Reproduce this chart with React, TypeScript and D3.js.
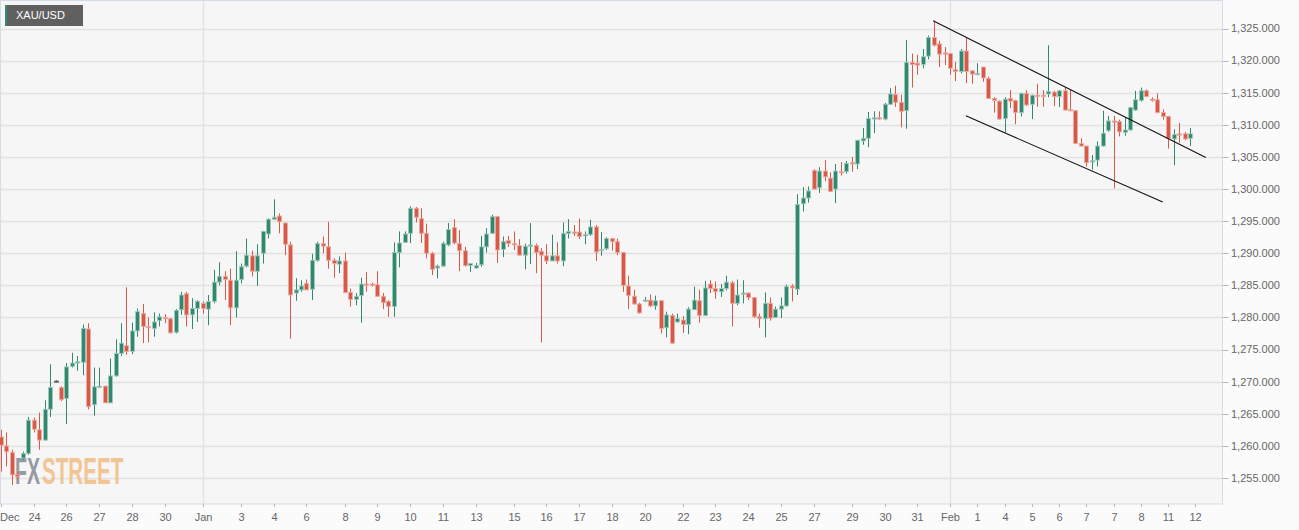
import React from 'react';
import * as d3 from 'd3';

// ---- Data: 4-hour XAU/USD candles ----
const openP = [
  1261.4,1260.0,1259.0,1255.5,1258.1,1258.8,1264.0,1262.5,1260.9,1265.7,
  1270.1,1269.1,1267.4,1272.4,1272.9,1273.0,1278.2,1266.4,1269.2,1269.3,
  1266.7,1270.9,1274.4,1275.6,1274.7,1277.9,1280.6,1278.6,1278.3,1279.5,
  1280.0,1279.8,1277.7,1281.2,1283.7,1280.4,1281.4,1282.2,1281.3,1282.5,
  1285.5,1286.4,1285.8,1281.5,1285.9,1288.0,1289.6,1287.2,1290.0,1293.0,
  1295.3,1295.8,1294.7,1291.3,1283.8,1284.3,1285.3,1284.4,1288.9,1291.5,
  1291.0,1288.9,1288.3,1288.8,1283.9,1282.8,1283.4,1285.2,1285.2,1285.1,
  1283.3,1282.5,1281.7,1290.1,1291.7,1293.1,1297.0,1295.4,1293.1,1290.0,
  1287.7,1288.0,1291.3,1294.0,1291.5,1290.4,1288.1,1287.7,1288.2,1291.0,
  1293.1,1295.7,1290.6,1292.0,1291.5,1291.2,1289.7,1291.1,1291.2,1290.3,
  1289.6,1288.8,1289.6,1288.8,1293.1,1293.3,1293.3,1292.7,1292.9,1294.1,
  1290.5,1290.7,1292.3,1291.8,1290.1,1284.9,1283.3,1282.1,1282.6,1282.7,
  1281.8,1282.6,1278.4,1280.3,1279.3,1279.6,1278.9,1281.2,1282.6,1280.3,
  1285.2,1284.5,1284.0,1284.5,1285.4,1282.2,1283.6,1283.8,1283.1,1280.1,
  1279.8,1282.2,1280.0,1281.3,1281.8,1284.9,1284.4,1297.7,1298.6,1302.9,
  1300.2,1302.8,1301.7,1300.0,1302.7,1302.7,1304.1,1303.9,1307.5,1307.9,
  1310.9,1311.1,1310.9,1313.2,1314.7,1313.5,1312.2,1319.7,1319.6,1319.4,
  1320.7,1323.6,1322.6,1321.2,1321.1,1318.6,1318.3,1321.5,1318.4,1317.8,
  1319.0,1317.2,1314.1,1313.7,1311.0,1314.1,1313.8,1311.9,1314.9,1313.2,
  1314.6,1314.6,1314.8,1315.1,1314.4,1315.3,1312.4,1312.2,1307.1,1306.7,
  1304.2,1304.5,1306.7,1309.1,1310.6,1310.5,1308.8,1309.2,1312.3,1313.8,
  1315.3,1314.0,1313.9,1311.9,1311.3,1307.8,1308.6,1308.6,1307.9
];
const highP = [
  1262.5,1262.1,1259.4,1255.9,1259.1,1264.5,1264.4,1265.2,1267.1,1272.7,
  1270.2,1269.3,1272.9,1274.5,1274.0,1278.9,1279.1,1272.2,1272.2,1269.4,
  1273.6,1276.6,1279.1,1284.7,1279.2,1281.4,1282.1,1280.0,1280.8,1280.6,
  1280.5,1279.9,1281.3,1284.0,1284.0,1283.0,1282.7,1282.5,1283.5,1287.4,
  1288.6,1287.2,1287.6,1290.3,1288.4,1292.3,1290.4,1291.4,1293.5,1295.4,
  1298.4,1296.2,1294.8,1291.8,1286.1,1285.8,1285.9,1289.9,1291.8,1292.6,
  1294.9,1289.2,1289.5,1290.1,1284.5,1283.8,1286.2,1287.1,1285.4,1287.2,
  1283.8,1282.7,1291.7,1293.4,1293.4,1297.3,1297.2,1297.0,1294.6,1290.2,
  1288.2,1291.8,1294.7,1295.3,1293.6,1291.0,1288.5,1288.5,1292.7,1293.9,
  1296.0,1295.8,1292.6,1292.7,1293.4,1292.2,1291.5,1294.7,1291.5,1290.8,
  1291.4,1292.9,1291.7,1294.8,1295.3,1294.4,1295.4,1293.4,1295.2,1294.4,
  1293.3,1292.5,1292.4,1292.3,1290.2,1286.5,1284.3,1282.3,1283.2,1283.6,
  1283.4,1282.7,1280.9,1280.6,1280.6,1280.2,1281.6,1284.8,1284.3,1285.7,
  1285.8,1285.6,1285.2,1286.5,1285.7,1285.9,1285.8,1283.9,1283.2,1280.6,
  1283.9,1283.1,1281.7,1283.1,1285.1,1285.2,1299.2,1300.3,1300.4,1303.1,
  1303.4,1304.5,1302.6,1303.9,1304.2,1304.4,1305.0,1307.6,1309.5,1312.0,
  1312.1,1312.1,1313.4,1315.7,1316.1,1314.7,1323.2,1321.1,1320.9,1321.8,
  1323.9,1326.2,1323.1,1322.1,1321.2,1319.8,1321.8,1323.5,1318.5,1319.6,
  1319.0,1317.5,1314.3,1313.8,1314.3,1315.4,1313.9,1315.0,1315.4,1314.7,
  1316.4,1315.4,1322.4,1315.3,1315.4,1315.9,1315.5,1312.3,1307.9,1306.7,
  1305.3,1307.4,1312.2,1311.4,1311.4,1310.8,1311.2,1312.8,1315.3,1315.8,
  1315.5,1314.3,1314.9,1312.4,1311.4,1309.3,1310.3,1308.9,1309.5
];
const lowP = [
  1256.0,1256.8,1253.9,1254.8,1257.8,1258.6,1262.1,1259.4,1260.8,1264.5,
  1269.9,1267.0,1263.4,1272.2,1271.7,1271.0,1265.7,1264.7,1269.0,1266.7,
  1266.7,1270.8,1274.0,1274.2,1274.3,1277.0,1276.0,1276.1,1277.0,1278.6,
  1279.1,1277.5,1277.5,1280.4,1278.6,1278.2,1279.3,1280.6,1278.8,1282.2,
  1285.0,1282.7,1278.8,1280.0,1285.3,1287.8,1286.4,1284.9,1288.4,1292.3,
  1295.2,1293.1,1289.7,1276.7,1282.6,1284.0,1284.3,1282.7,1288.7,1290.0,
  1287.6,1286.2,1286.9,1283.8,1281.7,1281.9,1279.2,1284.0,1284.8,1283.2,
  1281.3,1280.1,1280.1,1287.8,1291.6,1291.6,1294.8,1291.6,1289.2,1286.6,
  1286.1,1287.9,1291.1,1291.4,1287.2,1287.9,1287.1,1287.6,1287.9,1290.1,
  1293.0,1288.5,1289.4,1291.0,1290.5,1289.7,1287.5,1288.3,1286.9,1276.1,
  1288.3,1288.8,1288.4,1288.0,1292.3,1292.7,1292.2,1291.4,1292.7,1288.8,
  1289.6,1290.5,1290.4,1289.7,1284.0,1281.3,1282.0,1280.6,1282.5,1281.6,
  1281.2,1277.5,1276.9,1275.9,1279.2,1277.6,1277.4,1281.2,1279.2,1280.3,
  1283.8,1282.9,1283.2,1284.2,1278.6,1281.9,1282.2,1282.7,1279.9,1278.4,
  1276.9,1279.5,1279.9,1279.9,1281.7,1282.5,1283.5,1296.5,1297.9,1299.9,
  1299.4,1301.2,1299.6,1297.8,1302.1,1302.4,1302.7,1303.1,1306.9,1306.5,
  1308.7,1310.8,1310.7,1313.1,1312.8,1309.6,1309.4,1315.8,1317.8,1318.8,
  1320.2,1322.2,1319.0,1319.3,1317.8,1316.8,1318.0,1316.5,1316.4,1317.8,
  1316.7,1314.0,1311.9,1310.8,1308.8,1312.6,1310.1,1311.3,1312.9,1310.9,
  1312.8,1312.8,1314.3,1312.9,1312.8,1312.2,1312.1,1307.0,1306.6,1303.5,
  1303.0,1303.5,1306.6,1308.9,1300.1,1308.2,1308.3,1309.1,1312.2,1313.6,
  1314.3,1313.6,1311.8,1310.8,1306.3,1303.7,1307.2,1307.6,1306.7
];
const closeP = [
  1260.1,1259.1,1255.5,1255.2,1258.8,1264.0,1262.6,1260.9,1265.7,1269.1,
  1270.1,1267.2,1272.3,1272.9,1273.1,1278.3,1266.1,1269.2,1269.3,1266.7,
  1270.9,1274.4,1276.0,1274.7,1277.9,1280.9,1278.6,1278.4,1279.3,1280.1,
  1279.9,1277.6,1281.1,1283.5,1280.4,1281.4,1282.5,1281.4,1282.5,1285.5,
  1286.4,1285.9,1281.5,1285.8,1287.9,1289.7,1287.2,1289.6,1293.4,1295.3,
  1295.6,1294.9,1291.4,1283.5,1284.3,1284.9,1284.3,1288.9,1291.5,1291.1,
  1288.9,1288.4,1288.8,1283.9,1282.8,1283.3,1285.2,1285.0,1285.0,1283.3,
  1282.3,1281.7,1290.1,1291.6,1293.0,1297.0,1295.6,1293.1,1290.0,1287.5,
  1288.0,1291.5,1293.7,1291.6,1290.4,1288.1,1288.4,1288.1,1291.0,1293.0,
  1295.7,1290.5,1291.8,1291.5,1291.4,1289.7,1291.1,1291.3,1290.1,1289.7,
  1288.8,1289.6,1288.8,1293.1,1293.4,1293.1,1292.6,1292.9,1294.1,1290.2,
  1290.6,1292.3,1291.8,1290.1,1285.0,1283.4,1282.1,1280.7,1282.7,1281.8,
  1282.6,1278.3,1280.4,1276.0,1279.8,1278.9,1281.3,1282.7,1280.3,1284.6,
  1284.5,1284.0,1284.5,1285.5,1282.2,1283.5,1283.8,1283.1,1280.1,1279.8,
  1282.2,1279.9,1281.3,1281.8,1284.8,1284.6,1297.6,1298.6,1299.7,1300.0,
  1302.8,1301.9,1299.6,1302.8,1302.6,1304.0,1303.9,1307.6,1307.9,1311.0,
  1311.1,1310.9,1313.2,1314.8,1313.5,1312.1,1319.7,1319.4,1319.3,1320.6,
  1323.6,1322.4,1321.0,1321.0,1318.8,1318.3,1321.5,1318.3,1317.9,1318.0,
  1317.3,1314.1,1313.8,1310.9,1314.0,1313.7,1311.9,1314.9,1313.1,1314.6,
  1314.5,1314.5,1315.2,1314.4,1315.3,1312.3,1312.2,1307.1,1306.7,1304.1,
  1304.4,1306.7,1308.7,1310.6,1310.4,1308.9,1309.2,1312.7,1313.9,1315.3,
  1314.4,1313.8,1311.9,1311.3,1307.9,1308.5,1308.4,1307.8,1308.6
];

// x-axis tick labels and the candle index they sit at
const xTickLabels = ['Dec','24','26','27','28','30','Jan','3','4','6','8','9','10','11','13','15','16','17','18','20',
  '22','23','24','25','27','29','30','31','Feb','1','4','5','6','7','7','8','11','12'];
const xTickIndex = [0,6,12,18,24,30,37,44,50,56,63,69,75,81,87,94,100,106,112,118,
  125,131,137,143,149,156,162,168,174,179,184,189,194,199,204,209,214,219];
const monthStartIndex = [37, 174];
const yTickValues = [1255,1260,1265,1270,1275,1280,1285,1290,1295,1300,1305,1310,1315,1320,1325];

// falling-channel trend lines (candle index, price)
const upperTrendIdx = [170.9, 220.9];
const upperTrendPrice = [1326.2, 1304.9];
const lowerTrendIdx = [176.9, 213.0];
const lowerTrendPrice = [1311.4, 1298.0];

const FONT = '"Liberation Sans", Arial, Helvetica, sans-serif';
const GREEN = '#32876f';
const GREEN_LIGHT = '#9fcabd';
const RED = '#d65a48';
const RED_LIGHT = '#eeaaa0';

export default function App() {
  const W = 1299, H = 530;
  const plotRight = 1222.5, plotBottom = 504;
  const n = openP.length;
  const x = d3.scaleLinear().domain([0, 218]).range([1, 1190]);
  const y = d3.scaleLinear().domain([1255, 1325]).range([478, 28.5]);
  const fmt = d3.format(',.3f');
  const line = d3.line<[number, number]>().x(d => x(d[0])).y(d => y(d[1]));

  const candles = d3.range(n).map(i => {
    const o = openP[i], c = closeP[i], h = highP[i], l = lowP[i];
    const up = c >= o;
    const cx = Math.round(x(i));
    const doji = o === c;
    const col = doji ? '#333333' : up ? GREEN : RED;
    const light = doji ? '#777777' : up ? GREEN_LIGHT : RED_LIGHT;
    const top = y(Math.max(o, c));
    const bot = y(Math.min(o, c));
    const bh = Math.max(1.2, bot - top);
    return (
      <g key={i}>
        <line x1={cx + 0.5} x2={cx + 0.5} y1={y(h)} y2={y(l)} stroke={col} strokeWidth={1} />
        <rect x={cx - 1.5} y={top} width={4} height={bh} fill={col} stroke={light} strokeWidth={0.9} />
      </g>
    );
  });

  return (
    <svg width={W} height={H} style={{ position: 'absolute', left: 0, top: 0, background: '#fbfbfb' }}
      fontFamily={FONT}>
      <rect x={0} y={0} width={plotRight} height={plotBottom} fill="#f6f6f6" />
      {/* horizontal grid */}
      {yTickValues.map(v => (
        <line key={'g' + v} x1={0} x2={plotRight} y1={Math.round(y(v)) + 0.5} y2={Math.round(y(v)) + 0.5}
          stroke="#e2e2e2" strokeWidth={1.3} />
      ))}
      {/* month separators */}
      {monthStartIndex.map(i => (
        <line key={'m' + i} x1={Math.round(x(i)) + 0.5} x2={Math.round(x(i)) + 0.5} y1={0} y2={plotBottom}
          stroke="#e2e2e2" strokeWidth={1.3} />
      ))}
      {/* border */}
      <rect x={0.5} y={0.5} width={plotRight - 0.5} height={plotBottom - 0.5} fill="none" stroke="#d5dce9" strokeWidth={1} />

      {/* watermark */}
      <g fontWeight="bold" fontSize={20} opacity={0.9}>
        <text transform="translate(15,484) scale(0.98,1.82)" fill="#8d9199">FX</text>
        <text transform="translate(42,484) scale(1.03,1.82)" fill="#f2c08b">STREET</text>
      </g>

      {candles}

      {/* trend channel */}
      <path d={line([[upperTrendIdx[0], upperTrendPrice[0]], [upperTrendIdx[1], upperTrendPrice[1]]]) || ''}
        stroke="#111" strokeWidth={1.1} fill="none" />
      <path d={line([[lowerTrendIdx[0], lowerTrendPrice[0]], [lowerTrendIdx[1], lowerTrendPrice[1]]]) || ''}
        stroke="#111" strokeWidth={1.1} fill="none" />

      {/* y axis */}
      {yTickValues.map(v => (
        <g key={'y' + v}>
          <line x1={plotRight} x2={plotRight + 6} y1={Math.round(y(v)) + 0.5} y2={Math.round(y(v)) + 0.5} stroke="#b8b8b8" />
          <text x={1231} y={y(v)} dy="0.35em" fontSize={11} fill="#666">{fmt(v)}</text>
        </g>
      ))}

      {/* x axis */}
      {xTickIndex.map((idx, k) => {
        const xp = Math.round(x(idx)) + 0.5;
        return (
          <g key={'x' + k}>
            <line x1={xp} x2={xp} y1={plotBottom} y2={plotBottom + 3} stroke="#b8b8b8" />
            <text x={k === 0 ? 0 : xp} y={517.5} dy="0.35em" fontSize={11} fill="#666"
              textAnchor={k === 0 ? 'start' : 'middle'}>{xTickLabels[k]}</text>
          </g>
        );
      })}

      {/* symbol label */}
      <rect x={5} y={5} width={78} height={21} fill="#606060" />
      <rect x={5} y={5} width={2} height={21} fill="#2e8b72" />
      <text x={16} y={15.5} dy="0.35em" fontSize={11} fill="#ffffff">XAU/USD</text>
    </svg>
  );
}
